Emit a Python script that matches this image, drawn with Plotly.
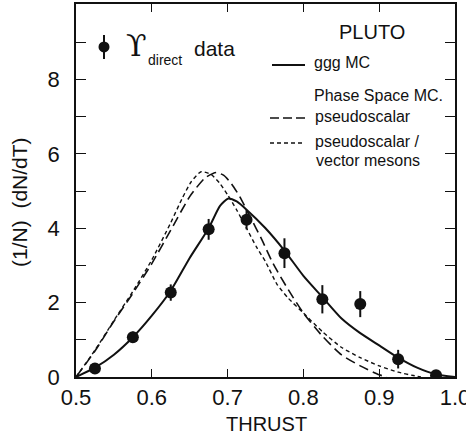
import plotly.graph_objects as go

# ---- data ----
thrust_pts = [0.525, 0.575, 0.625, 0.675, 0.725, 0.775, 0.825, 0.875, 0.925, 0.975]
dndt_pts   = [0.23, 1.07, 2.27, 3.97, 4.23, 3.33, 2.09, 1.96, 0.48, 0.05]
err_pts    = [0.10, 0.15, 0.22, 0.28, 0.26, 0.40, 0.38, 0.35, 0.25, 0.06]

ggg_x = [0.5, 0.525, 0.55, 0.575, 0.6, 0.625, 0.65, 0.675, 0.69, 0.701, 0.712, 0.725,
         0.75, 0.775, 0.8, 0.825, 0.85, 0.875, 0.9, 0.925, 0.95, 0.975, 1.0]
ggg_y = [0.0, 0.25, 0.6, 1.07, 1.65, 2.32, 3.2, 4.0, 4.6, 4.8, 4.72, 4.5,
         4.0, 3.4, 2.72, 2.15, 1.58, 1.18, 0.85, 0.52, 0.25, 0.07, 0.0]

ps_x = [0.5, 0.525, 0.55, 0.575, 0.6, 0.625, 0.65, 0.67, 0.685, 0.695, 0.705, 0.716,
        0.73, 0.745, 0.76, 0.78, 0.8, 0.825, 0.85, 0.875, 0.9, 0.91]
ps_y = [0.0, 0.7, 1.5, 2.25, 3.05, 3.95, 4.85, 5.35, 5.5, 5.42, 5.2, 4.85,
        4.3, 3.7, 3.05, 2.35, 1.72, 1.1, 0.6, 0.3, 0.06, 0.0]

vm_x = [0.5, 0.525, 0.55, 0.575, 0.6, 0.625, 0.64, 0.652, 0.665, 0.678, 0.69, 0.7,
        0.712, 0.725, 0.738, 0.75, 0.765, 0.78, 0.8, 0.825, 0.85, 0.875, 0.9, 0.925, 0.945, 0.955]
vm_y = [0.0, 0.72, 1.52, 2.3, 3.15, 4.15, 4.8, 5.25, 5.52, 5.45, 5.2, 4.9,
        4.49, 4.0, 3.5, 3.1, 2.5, 2.12, 1.72, 1.22, 0.8, 0.52, 0.3, 0.13, 0.04, 0.0]

x_ticks = [0.5, 0.6, 0.7, 0.8, 0.9, 1.0]
x_ticktext = ["0.5", "0.6", "0.7", "0.8", "0.9", "1.0"]
y_ticks = [0, 1, 2, 3, 4, 5, 6, 7, 8, 9]
y_ticktext = ["0", "", "2", "", "4", "", "6", "", "8", ""]

FONT = "Liberation Sans"
BLACK = "#111111"

fig = go.Figure()
fig.add_trace(go.Scatter(x=ps_x, y=ps_y, mode="lines", line=dict(color=BLACK, width=1.6, dash="10px,5px", shape="spline", smoothing=0.6)))
fig.add_trace(go.Scatter(x=vm_x, y=vm_y, mode="lines", line=dict(color=BLACK, width=1.4, dash="4px,3px", shape="spline", smoothing=0.6)))
fig.add_trace(go.Scatter(x=ggg_x, y=ggg_y, mode="lines", line=dict(color=BLACK, width=2, shape="spline", smoothing=0.6)))
fig.add_trace(go.Scatter(x=thrust_pts, y=dndt_pts, mode="markers",
                         marker=dict(color=BLACK, size=12),
                         error_y=dict(type="data", array=err_pts, color=BLACK, thickness=2, width=0)))

# ---- legend drawn by hand (paper coords from pixel positions) ----
L, R, T, B = 76, 455, 4, 377.2
def px(x):
    return (x - L) / (R - L)
def py(y):
    return (B - y) / (B - T)

shapes = [
    dict(type="line", xref="paper", yref="paper", x0=px(272), x1=px(305), y0=py(65), y1=py(65), line=dict(color=BLACK, width=2)),
    dict(type="line", xref="paper", yref="paper", x0=px(270), x1=px(305), y0=py(118), y1=py(118), line=dict(color=BLACK, width=1.6, dash="9px,4px")),
    dict(type="line", xref="paper", yref="paper", x0=px(270), x1=px(305), y0=py(143), y1=py(143), line=dict(color=BLACK, width=1.4, dash="4px,3px")),
    dict(type="line", xref="paper", yref="paper", x0=px(104), x1=px(104), y0=py(35), y1=py(59), line=dict(color=BLACK, width=2)),
    dict(type="circle", xref="paper", yref="paper", x0=px(98.5), x1=px(109.5), y0=py(41.5), y1=py(52.5), fillcolor=BLACK, line=dict(color=BLACK, width=0)),
]

def ann(text, x, y, size, xanchor="left", family=FONT, **kw):
    return dict(text=text, xref="paper", yref="paper", x=px(x), y=py(y), xanchor=xanchor, yanchor="middle",
                showarrow=False, font=dict(family=family, size=size, color=BLACK), **kw)

annotations = [
    ann("PLUTO", 337, 32, 20),
    ann("ggg MC", 312, 63, 16),
    ann("Phase Space MC.", 312, 96, 16),
    ann("pseudoscalar", 313, 117, 16),
    ann("pseudoscalar /", 313, 142, 16),
    ann("vector mesons", 314, 161, 16),
    ann("\u03d2", 124, 46, 30, family="DejaVu Serif"),
    ann("direct", 146, 60, 14),
    ann("data", 192, 49, 21),
    ann("THRUST", 266, 424, 20, xanchor="center"),
    ann("(1/N)  (dN/dT)", 20, 202, 21, xanchor="center", textangle=-90),
]

fig.update_layout(
    width=466, height=439,
    margin=dict(l=76, r=11, t=4, b=62),
    paper_bgcolor="white", plot_bgcolor="white",
    showlegend=False,
    shapes=shapes, annotations=annotations,
    xaxis=dict(range=[0.5, 1.0], tickvals=x_ticks, ticktext=x_ticktext, ticks="inside", ticklen=8,
               tickwidth=1.2, tickcolor=BLACK, showgrid=False, zeroline=False, showline=True,
               linecolor=BLACK, linewidth=1.5, mirror="ticks", ticklabeloverflow="allow",
               automargin=False,
               tickfont=dict(family=FONT, size=22, color=BLACK)),
    yaxis=dict(range=[0, 10.03], tickvals=y_ticks, ticktext=y_ticktext, ticks="inside", ticklen=10,
               tickwidth=1.2, tickcolor=BLACK, showgrid=False, zeroline=False, showline=True,
               linecolor=BLACK, linewidth=1.5, mirror="ticks", ticklabelstandoff=10,
               ticklabeloverflow="allow", automargin=False,
               tickfont=dict(family=FONT, size=22, color=BLACK)),
)

fig.write_html("out.html")
